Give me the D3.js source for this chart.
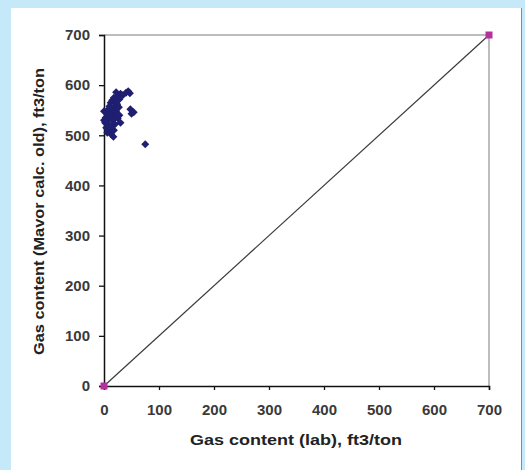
<!DOCTYPE html>
<html><head><meta charset="utf-8">
<script src="https://cdn.jsdelivr.net/npm/d3@7"></script>
<style>html,body{margin:0;padding:0;background:#c6e9f9;}svg{display:block;}</style>
</head><body>
<svg id="c" width="525" height="470"></svg>
<script>
// Data: gas content lab (x) vs Mavor calc. old (y), ft3/ton
const labX = [44,47,40,30,34,22,25,18,28,15,20,12,24,10,17,27,8,14,22,5,12,19,3,9,16,25,2,8,14,20,4,10,18,6,13,17,48,54,50,75,0,0,28,30];
const calcY = [588,584,585,583,580,586,578,575,572,570,566,565,562,558,555,556,552,548,548,545,540,540,535,532,530,534,525,522,520,522,515,512,510,505,502,497,552,546,543,482,548,530,540,525];
const refX = [0,700];
const refY = [0,700];
const ticks = [0,100,200,300,400,500,600,700];
const xTitle = "Gas content (lab), ft3/ton";
const yTitle = "Gas content (Mavor calc. old), ft3/ton";

const svg = d3.select("#c");
svg.append("rect").attr("x",11).attr("y",8).attr("width",510).attr("height",462).attr("fill","#ffffff");
svg.append("line").attr("x1",521.5).attr("x2",521.5).attr("y1",8).attr("y2",470).attr("stroke","#8a8a8a").attr("stroke-width",1);

const L=104, R=489, T=35, B=386;
const x = d3.scaleLinear().domain([0,700]).range([L,R]);
const y = d3.scaleLinear().domain([0,700]).range([B,T]);

// top/right frame
svg.append("path").attr("d",`M${L},${T}H${R}V${B}`).attr("fill","none").attr("stroke","#a8a8a8").attr("stroke-width",1.5);

const font = "'Liberation Sans', Arial, sans-serif";
const xa = svg.append("g").attr("transform",`translate(0,${B})`)
  .call(d3.axisBottom(x).tickValues(ticks).tickSize(4).tickPadding(14).tickFormat(d3.format("d")));
const ya = svg.append("g").attr("transform",`translate(${L},0)`)
  .call(d3.axisLeft(y).tickValues(ticks).tickSize(5).tickPadding(9).tickFormat(d3.format("d")));
[xa,ya].forEach(a=>{
  a.select(".domain").attr("stroke","#111").attr("stroke-width",1.5);
  a.selectAll(".tick line").attr("stroke","#111").attr("stroke-width",1.3);
  a.selectAll(".tick text").attr("fill","#3a3a3a").style("font-family",font).style("font-weight","bold").style("font-size","15px");
});

// diagonal reference line
svg.append("path").datum(refX.map((v,i)=>[v,refY[i]]))
  .attr("d",d3.line().x(d=>x(d[0])).y(d=>y(d[1])))
  .attr("fill","none").attr("stroke","#3a3a3a").attr("stroke-width",1.2);

// reference markers
svg.selectAll(".ref").data(refX.map((v,i)=>[v,refY[i]])).enter().append("path")
  .attr("d",d3.symbol(d3.symbolSquare,49)())
  .attr("transform",d=>`translate(${x(d[0])},${y(d[1])})`)
  .attr("fill","#b3329f");

// data points
svg.selectAll(".pt").data(labX.map((v,i)=>[v,calcY[i]])).enter().append("path")
  .attr("d",d3.symbol(d3.symbolSquare,32)())
  .attr("transform",d=>`translate(${x(d[0])},${y(d[1])}) rotate(45)`)
  .attr("fill","#1f1f72");

svg.append("text").attr("x",296).attr("y",445).attr("text-anchor","middle")
  .attr("textLength",212).attr("lengthAdjust","spacingAndGlyphs")
  .style("font-family",font).style("font-weight","bold").style("font-size","15px").attr("fill","#222").text(xTitle);
svg.append("text").attr("transform","translate(44,211.5) rotate(-90)").attr("text-anchor","middle")
  .attr("textLength",287).attr("lengthAdjust","spacingAndGlyphs")
  .style("font-family",font).style("font-weight","bold").style("font-size","14px").attr("fill","#222").text(yTitle);
</script>
</body></html>
